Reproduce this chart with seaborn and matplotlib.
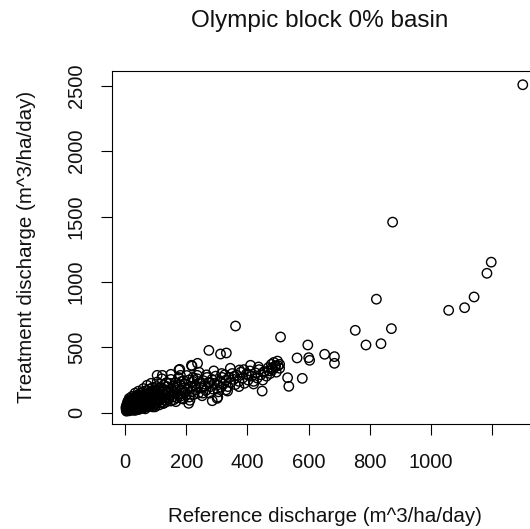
import matplotlib
matplotlib.use("Agg")
import matplotlib.pyplot as plt
import pandas as pd
import seaborn as sns

# ── Data ──────────────────────────────────────────────────
# isolated / outlying points
out_ref = [1299, 874, 1196, 1182, 1140, 1109, 1057, 821, 870, 752, 836, 787,
           361, 508, 597, 562, 600, 603, 652, 684, 684, 531, 535, 579, 448,
           274, 312, 331, 237, 217, 179, 150, 122, 105, 236, 410, 374, 505,
           335, 301, 285, 208, 176, 219, 181, 480, 492, 470]
out_trt = [2507, 1457, 1151, 1066, 885, 803, 783, 868, 643, 630, 528, 518,
           663, 579, 518, 419, 421, 401, 447, 429, 378, 268, 202, 263, 166,
           477, 449, 457, 378, 363, 332, 294, 286, 286, 286, 363, 327, 370,
           166, 110, 92, 72, 327, 357, 286, 345, 360, 320]

# dense band near the origin
g1_ref = [4, 6, 7, 8, 9, 10, 11, 12, 13, 14, 15, 16, 17, 18, 19, 20, 21, 22,
          23, 24, 25, 26, 27, 28, 29, 30, 31, 32, 33, 34, 35, 36, 37, 38, 39,
          40, 41, 42, 43, 44, 45, 46, 47, 48, 49, 50]
g1_trt = [22, 45, 30, 60, 18, 38, 75, 28, 52, 90, 35, 20, 65, 45, 100, 30,
          58, 80, 24, 42, 110, 68, 36, 88, 50, 26, 120, 60, 40, 95, 75, 30,
          130, 55, 85, 45, 105, 28, 70, 140, 50, 90, 35, 115, 62, 80]

g2_ref = [52, 53, 54, 56, 57, 58, 60, 61, 62, 63, 65, 66, 67, 69, 70, 71, 72,
          74, 75, 76, 78, 79, 80, 81, 83, 84, 85, 86, 88, 89, 90, 92, 93, 95,
          96, 98, 99, 100, 102, 103, 105, 106, 108, 110]
g2_trt = [150, 42, 100, 70, 125, 55, 160, 88, 38, 110, 75, 140, 50, 95, 170,
          65, 120, 45, 105, 150, 80, 180, 60, 130, 95, 48, 160, 115, 70, 190,
          100, 140, 58, 125, 85, 170, 65, 110, 200, 150, 78, 130, 95, 175]

g3_ref = [112, 113, 115, 117, 118, 120, 122, 124, 126, 128, 130, 132, 134,
          136, 138, 140, 142, 145, 147, 150, 152, 154, 156, 158, 160, 163,
          165, 167, 170, 172, 175, 178, 180, 182, 185, 188, 190, 193, 196,
          198, 200]
g3_trt = [60, 140, 105, 190, 80, 160, 120, 70, 210, 135, 95, 175, 115, 85,
          200, 150, 105, 225, 130, 90, 180, 160, 120, 205, 100, 145, 230, 175,
          115, 195, 140, 215, 125, 170, 240, 150, 105, 190, 160, 220, 135]

g4_ref = [205, 208, 210, 214, 218, 222, 225, 228, 232, 236, 240, 244, 248,
          252, 256, 260, 264, 268, 272, 276, 280, 284, 288, 292, 296, 300,
          305, 310, 314, 318]
g4_trt = [180, 250, 120, 200, 160, 240, 140, 210, 175, 260, 150, 225, 190,
          130, 245, 205, 170, 270, 230, 150, 200, 255, 180, 225, 280, 210,
          160, 245, 195, 270]

g5_ref = [322, 326, 330, 336, 340, 345, 350, 355, 360, 366, 372, 378, 384,
          390, 396, 402, 408, 414, 420, 426, 432, 438, 444, 450, 456, 462,
          468, 474, 478, 482, 486, 490, 494, 498, 500, 505]
g5_trt = [220, 290, 250, 200, 270, 230, 300, 255, 215, 285, 240, 310, 265,
          225, 295, 250, 320, 280, 240, 305, 265, 330, 290, 250, 315, 280,
          345, 300, 370, 330, 385, 350, 310, 395, 360, 340]

# extra scatter across the width of the band
g6_ref = [5, 9, 14, 18, 23, 27, 33, 38, 44, 50, 55, 60, 66, 72, 78, 85, 92,
          98, 105, 112, 120, 128, 135, 143, 150, 158, 166, 175, 184, 192, 202,
          212, 222, 232, 242, 254, 266, 278, 290, 303, 316, 330, 344, 358,
          372, 388, 404, 420, 436, 452]
g6_trt = [55, 85, 110, 70, 125, 95, 150, 115, 165, 130, 35, 185, 140, 210,
          100, 225, 170, 45, 235, 190, 260, 75, 230, 165, 255, 200, 85, 270,
          110, 245, 285, 95, 270, 195, 310, 150, 290, 230, 320, 120, 300, 175,
          340, 280, 200, 330, 290, 220, 350, 310]

# filling the black blob at the origin
g7_ref = [3, 5, 7, 9, 12, 14, 17, 19, 22, 25, 27, 30, 33, 36, 39, 42, 45, 48,
          51, 55, 58, 62, 66, 70, 74, 78, 82, 87, 91, 96]
g7_trt = [40, 12, 68, 50, 95, 15, 30, 82, 48, 20, 100, 62, 18, 110, 48, 92,
          25, 72, 40, 118, 85, 70, 30, 135, 88, 110, 70, 130, 45, 155]

x_ticks = [0, 200, 400, 600, 800, 1000, 1200]
x_tick_labels = ["0", "200", "400", "600", "800", "1000", ""]
y_ticks = [0, 500, 1000, 1500, 2000, 2500]
y_tick_labels = ["0", "500", "1000", "1500", "2000", "2500"]

df = pd.DataFrame({
    "ref": g1_ref + g2_ref + g3_ref + g4_ref + g5_ref + g6_ref + g7_ref + out_ref,
    "trt": g1_trt + g2_trt + g3_trt + g4_trt + g5_trt + g6_trt + g7_trt + out_trt,
})

# ── Style ─────────────────────────────────────────────────
sns.set_style("ticks")
plt.rcParams["font.family"] = ["Liberation Sans", "DejaVu Sans"]

fig = plt.figure(figsize=(5.30, 5.29), dpi=100)
fig.patch.set_facecolor("white")
# axes box runs past the right edge of the picture, as in the reference
ax = fig.add_axes([111.5 / 530, 105.5 / 529, 427.5 / 530, 352.5 / 529])

sns.scatterplot(data=df, x="ref", y="trt", ax=ax, marker="o", s=46,
                facecolor="none", edgecolor="black", linewidth=1.0,
                legend=False)

ax.set_xlim(-44, 1352)
ax.set_ylim(-82, 2612)
ax.set_xticks(x_ticks)
ax.set_xticklabels(x_tick_labels)
ax.set_yticks(y_ticks)
ax.set_yticklabels(y_tick_labels, rotation=90, va="center")

for side in ["top", "right", "bottom", "left"]:
    ax.spines[side].set_visible(True)
    ax.spines[side].set_color("black")
    ax.spines[side].set_linewidth(0.8)

ax.tick_params(axis="both", direction="out", length=8, width=0.8,
               color="black", labelsize=14.5, labelcolor="#111111")
ax.tick_params(axis="x", pad=13)
ax.tick_params(axis="y", pad=10.5)

ax.set_xlabel("Reference discharge (m^3/ha/day)", fontsize=14.8, color="#111111")
ax.set_ylabel("Treatment discharge (m^3/ha/day)", fontsize=14.8, color="#111111")
ax.xaxis.set_label_coords(0.5, -0.265)
ax.xaxis.label.set_va("center")
ax.yaxis.set_label_coords(-0.1977, 0.5)
ax.yaxis.label.set_va("center")

ax.set_title("Olympic block 0% basin", fontsize=17.5, color="#111111", pad=32)
ax.title.set_x(0.488)

plt.savefig("out.png", dpi=100)
plt.close()
